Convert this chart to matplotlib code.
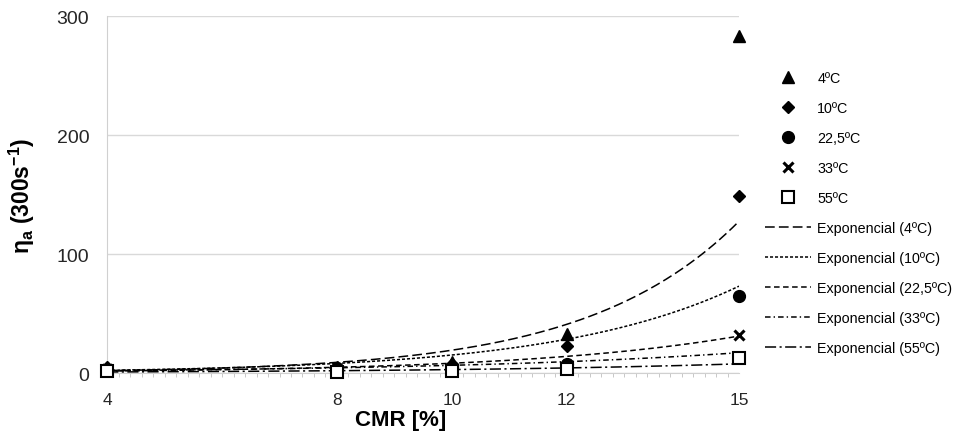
import numpy as np
import matplotlib
matplotlib.use("Agg")
import matplotlib.pyplot as plt
from matplotlib.ticker import MultipleLocator, FixedLocator

plt.rcParams['font.family'] = ['Liberation Sans', 'DejaVu Sans']
plt.rcParams['lines.scale_dashes'] = False

cmr = [4, 8, 10, 12, 15]
temps = ['4ºC', '10ºC', '22,5ºC', '33ºC', '55ºC']
eta_4 = [4.4, 4.8, 9, 33, 283]
eta_10 = [4.7, 4.5, 8, 23, 149]
eta_225 = [2.7, 4.1, 5, 8, 65]
eta_33 = [3.7, 2.5, 4.5, 7, 32]
eta_55 = [1.5, 1.2, 2, 3.5, 13]

series = [eta_4, eta_10, eta_225, eta_33, eta_55]
markers = ['^', 'D', 'o', 'x', 's']
msizes = [8, 6, 8.5, 7, 8]
dashes = [(7, 3), (2.2, 1.4), (4, 2.5), (4, 2.2, 1, 2.2), (8, 2.5, 1.5, 2.5)]

fig = plt.figure(figsize=(9.66, 4.39), dpi=100)
ax = fig.add_axes([0.111, 0.148, 0.654, 0.813])

pts = []
for y, m, ms, t in zip(series, markers, msizes, temps):
    if m == 's':
        h, = ax.plot(cmr, y, ls='none', marker=m, ms=ms, mfc='white', mec='black', mew=1.5,
                     label=t, zorder=4, clip_on=False)
    elif m == 'x':
        h, = ax.plot(cmr, y, ls='none', marker=m, ms=ms, color='black', mew=2.2,
                     label=t, zorder=4, clip_on=False)
    else:
        h, = ax.plot(cmr, y, ls='none', marker=m, ms=ms, color='black',
                     label=t, zorder=4, clip_on=False)
    pts.append(h)

# exponential trendlines (fit on log values, like the spreadsheet does)
xx = np.linspace(4, 15, 200)
trends = []
for y, d, t in zip(series, dashes, temps):
    b, lna = np.polyfit(cmr, np.log(y), 1)
    h, = ax.plot(xx, np.exp(lna + b * xx), color='black', lw=1.1, dashes=d,
                 label='Exponencial (%s)' % t, zorder=3)
    trends.append(h)

ax.set_xlim(4, 15)
ax.set_ylim(0, 300)
ax.xaxis.set_major_locator(FixedLocator(cmr))
ax.xaxis.set_minor_locator(MultipleLocator(0.2))
ax.yaxis.set_major_locator(MultipleLocator(100))
ax.tick_params(axis='x', which='major', length=0, pad=14, labelsize=12.5, colors='#262626')
ax.tick_params(axis='x', which='minor', length=3, color='#bfbfbf', direction='out')
ax.tick_params(axis='y', length=0, pad=13, labelsize=14, colors='#262626')
ax.grid(axis='y', color='#d9d9d9', lw=1)
ax.set_axisbelow(True)
for s in ['top', 'right']:
    ax.spines[s].set_visible(False)
for s in ['left', 'bottom']:
    ax.spines[s].set_color('#d0d0d0')

ax.set_xlabel('CMR [%]', fontsize=16, fontweight='bold')
ax.xaxis.set_label_coords(0.465, -0.1)
ax.set_ylabel(r'η$_\mathregular{a}$ (300s$^\mathregular{-1}$)', fontsize=16.5, fontweight='bold')
ax.yaxis.set_label_coords(-0.111, 0.5)

ax.legend(handles=pts + trends, loc='upper left', bbox_to_anchor=(1.032, 0.862),
          frameon=False, fontsize=10.3, handlelength=3.25, handletextpad=0.4,
          labelspacing=1.12, borderaxespad=0)

fig.savefig('out.png', dpi=100)
